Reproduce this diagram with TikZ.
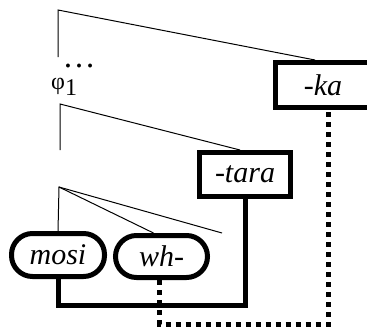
\documentclass[tikz,border=0pt]{standalone}
\usepackage{fontspec}
\newfontfamily\tms{Liberation Serif}
\newfontfamily\tmsit{Liberation Serif Italic}
\tikzset{
  morph/.style={draw, line width=5pt, rectangle, inner sep=0pt},
  lex/.style={draw, line width=5pt, rectangle, rounded corners=21pt, inner sep=0pt},
  thinline/.style={line width=1pt},
  thickline/.style={line width=5pt, line join=miter},
  dotline/.style={line width=5pt, dash pattern=on 5pt off 5pt},
}
\begin{document}
\begin{tikzpicture}[x=1pt,y=-1pt]
\useasboundingbox (0,0) rectangle (367,327);
% top tree
\coordinate (t1) at (58,10);
\coordinate (t1b) at (58,57);
\node[inner sep=0pt, anchor=base, font=\tms\fontsize{33}{33}\selectfont] (dots) at (79,67) {…};
\node[inner sep=0pt, anchor=base west, font=\tms\fontsize{24}{24}\selectfont] (phi) at (51,89) {φ\raisebox{-6pt}{1}};
\coordinate (t2) at (60,104);
\coordinate (t2b) at (60,150);
\coordinate (j3) at (59,187);
\coordinate (free) at (222,233);
\node[morph, minimum width=95pt, minimum height=45pt, font=\tmsit\fontsize{30}{30}\selectfont] (ka) at (323,85) {-ka};
\node[morph, minimum width=91pt, minimum height=44pt, font=\tmsit\fontsize{30}{30}\selectfont] (tara) at (245,174.5) {-tara};
\node[lex, minimum width=93pt, minimum height=43pt, font=\tmsit\fontsize{30}{30}\selectfont] (mosi) at (58,255) {mosi};
\node[lex, minimum width=92pt, minimum height=42pt, font=\tmsit\fontsize{30}{30}\selectfont] (wh) at (161.5,256.5) {wh-};
% thin tree lines
\draw[thinline] (t1b) -- (t1) -- ([xshift=-8pt]ka.north);
\draw[thinline] (t2b) -- (t2) -- ([xshift=-5pt]tara.north);
\draw[thinline] (mosi.north) -- (j3) -- ([xshift=-8pt]wh.north);
\draw[thinline] (j3) -- (free);
% association lines
\draw[thickline] (mosi.south) -- ++(0,26) -| (tara.south);
\draw[dotline] ([xshift=-2pt]wh.south) -- ++(0,44) -| ([xshift=5pt]ka.south);
\end{tikzpicture}
\end{document}
